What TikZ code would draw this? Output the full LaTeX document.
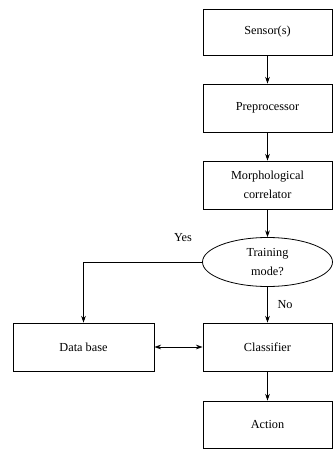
\documentclass[tikz,border=0pt]{standalone}
\usepackage{fontspec}
\setmainfont{Liberation Serif}
\usepackage{tikz}
\usetikzlibrary{arrows.meta,shapes.geometric}

\tikzset{
  blk/.style={draw, line width=0.6pt, minimum width=96.75pt, minimum height=36pt,
    align=center, inner sep=1pt, font=\fontsize{9.2}{14.2}\selectfont},
  decision/.style={draw, line width=0.6pt, ellipse, minimum width=97.5pt,
    minimum height=36.75pt, inner sep=0pt, align=center,
    font=\fontsize{9.2}{14.2}\selectfont},
  flow/.style={line width=0.6pt, -{Stealth[length=5pt,width=3.5pt]}},
}

\begin{document}
\begin{tikzpicture}[x=0.75pt, y=-0.75pt]
    \useasboundingbox (0,0) rectangle (333,450);
    % Main chain
    \node[blk, minimum height=34.5pt] (sensor) at (267.5,32) {Sensor(s)};
    \node[blk] (prep) at (267.5,108) {Preprocessor};
    \node[blk] (morph) at (267.5,185) {Morphological\\correlator};
    \node[decision] (train) at (267.5,262) {Training\\mode?};
    \node[blk] (classif) at (267.5,347) {Classifier};
    \node[blk, minimum height=35.25pt] (action) at (267.5,424.5) {Action};
    % Storage
    \node[blk, minimum width=105.75pt] (dbase) at (83.5,347) {Data base};
    % Labels
    \node[font=\fontsize{9.2}{11}\selectfont] (yes) at (183,238) {Yes};
    \node[font=\fontsize{9.2}{11}\selectfont] (no) at (285,305) {No};
    % Arrows
    \draw[flow] (sensor) -- (prep);
    \draw[flow] (prep) -- (morph);
    \draw[flow] (morph) -- (train);
    \draw[flow] (train) -- (classif);
    \draw[flow] (classif) -- (action);
    \draw[flow] (train.west) -| (dbase.north);
    \draw[line width=0.6pt, {Stealth[length=5pt,width=3.5pt]}-{Stealth[length=5pt,width=3.5pt]}]
    (dbase) -- (classif);
  \end{tikzpicture}
\end{document}
